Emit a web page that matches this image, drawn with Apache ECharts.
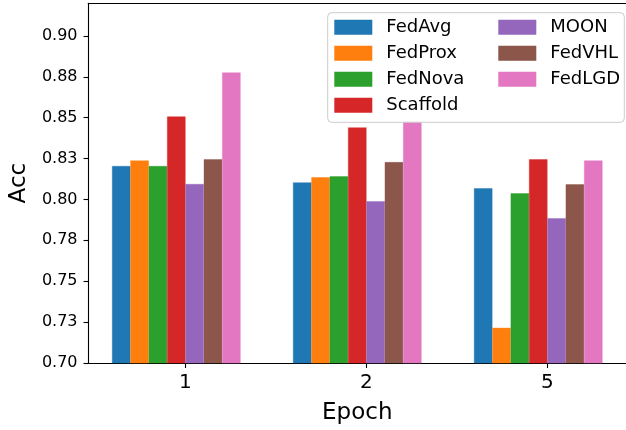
<!DOCTYPE html>
<html>
<head>
<meta charset="utf-8">
<script src="https://cdn.jsdelivr.net/npm/echarts@6/dist/echarts.min.js"></script>
<style>html,body{margin:0;padding:0;background:#fff;}#c{width:626px;height:430px;}</style>
</head>
<body>
<div id="c"></div>
<script>
const epochs = ['1', '2', '5'];
const methods = ['FedAvg', 'FedProx', 'FedNova', 'Scaffold', 'MOON', 'FedVHL', 'FedLGD'];
const fedAvg   = [0.8204, 0.8104, 0.8068];
const fedProx  = [0.8238, 0.8135, 0.7215];
const fedNova  = [0.8204, 0.8141, 0.8037];
const scaffold = [0.8507, 0.8440, 0.8245];
const moon     = [0.8094, 0.7989, 0.7885];
const fedVHL   = [0.8245, 0.8228, 0.8092];
const fedLGD   = [0.8776, 0.8476, 0.8238];
const yTickLabels = ['0.70', '0.73', '0.75', '0.78', '0.80', '0.83', '0.85', '0.88', '0.90'];

const values = [fedAvg, fedProx, fedNova, scaffold, moon, fedVHL, fedLGD];
const colors = ['#1f77b4', '#ff7f0e', '#2ca02c', '#d62728', '#9467bd', '#8c564b', '#e377c2'];
const FONT = 'DejaVu Sans';

const chart = echarts.init(document.getElementById('c'), null, {renderer: 'canvas'});

const series = methods.map((name, s) => ({
  name: name,
  type: 'bar',
  xAxisIndex: 1,
  yAxisIndex: 0,
  barWidth: 18.35,
  barGap: '0%',
  itemStyle: {color: colors[s], borderColor: colors[s], borderWidth: 0.4},
  emphasis: {disabled: true},
  data: values[s].map((v, i) => [i, v])
}));

const legendCommon = {
  orient: 'vertical',
  icon: 'rect',
  padding: 0,
  itemWidth: 36,
  itemHeight: 13,
  itemGap: 8,
  top: 18.3,
  z: 20,
  selectedMode: false,
  formatter: name => '{g| }{t|' + name + '}',
  textStyle: {
    fontFamily: FONT, fontSize: 18, color: '#000', lineHeight: 18,
    rich: {
      g: {width: 10, height: 18, fontSize: 18},
      t: {fontFamily: FONT, fontSize: 18, color: '#000', lineHeight: 18}
    }
  }
};

chart.setOption({
  animation: false,
  backgroundColor: '#fff',
  color: colors,
  grid: {left: 88, right: -7, top: 3.2, bottom: 65.7, containLabel: false},
  graphic: [{
    type: 'rect',
    z: 10,
    shape: {x: 327.7, y: 12.7, width: 296.6, height: 109.6, r: 4},
    style: {fill: 'rgba(255,255,255,0.8)', stroke: '#cccccc', lineWidth: 1}
  }],
  legend: [
    Object.assign({}, legendCommon, {left: 334.3, data: methods.slice(0, 4)}),
    Object.assign({}, legendCommon, {left: 498.3, data: methods.slice(4)})
  ],
  xAxis: [{
    type: 'value',
    position: 'bottom',
    min: -0.535,
    max: 2.435,
    name: 'Epoch',
    nameLocation: 'middle',
    nameGap: 39,
    nameTextStyle: {fontFamily: FONT, fontSize: 23, color: '#000'},
    axisLine: {show: true, onZero: false, lineStyle: {color: '#000', width: 1.1}},
    axisTick: {show: true, length: 5, customValues: [0, 1, 2], lineStyle: {color: '#000', width: 1.1}},
    axisLabel: {show: true, customValues: [0, 1, 2], margin: 10, fontFamily: FONT, fontSize: 20, color: '#000',
      formatter: v => epochs[Math.round(v)]},
    splitLine: {show: false}
  }, {
    type: 'value',
    position: 'top',
    min: -0.485,
    max: 2.485,
    axisLine: {show: true, onZero: false, lineStyle: {color: '#000', width: 1.1}},
    axisTick: {show: false},
    axisLabel: {show: false},
    splitLine: {show: false}
  }],
  yAxis: [{
    type: 'value',
    min: 0.70,
    max: 0.92,
    interval: 0.025,
    name: 'Acc',
    nameLocation: 'middle',
    nameGap: 55,
    nameTextStyle: {fontFamily: FONT, fontSize: 23, color: '#000'},
    axisLine: {show: true, onZero: false, lineStyle: {color: '#000', width: 1.1}},
    axisTick: {show: true, length: 5, lineStyle: {color: '#000', width: 1.1}},
    axisLabel: {margin: 11, fontFamily: FONT, fontSize: 16, color: '#000',
      formatter: v => yTickLabels[Math.round((v - 0.70) / 0.025)] || '',
      showMaxLabel: false},
    splitLine: {show: false}
  }],
  series: series
});
</script>
</body>
</html>
